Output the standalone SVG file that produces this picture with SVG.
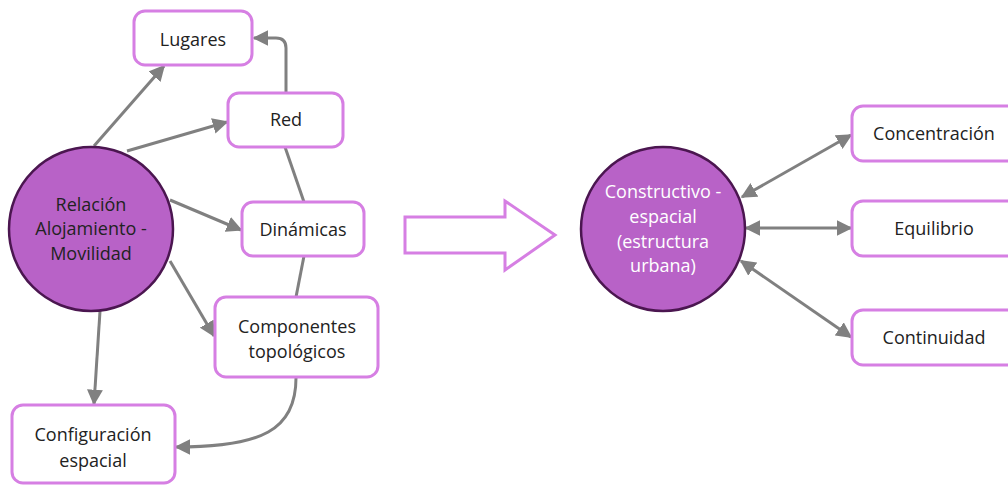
<svg xmlns="http://www.w3.org/2000/svg" width="1008" height="486" viewBox="0 0 1008 486">
<style>
.box{fill:#fff;stroke:#d67fe3;stroke-width:3}
.circ{fill:#b862c7;stroke:#4b1650;stroke-width:2.5}
.t{font-family:"Open Sans","Noto Sans",sans-serif;font-size:18px;fill:#222;text-anchor:middle}
.tw{fill:#fff}
.c{fill:none;stroke:#808080;stroke-width:3}
</style>
<defs>
<marker id="ah" viewBox="0 0 10 10" refX="9" refY="5" markerWidth="5.3" markerHeight="5.3" orient="auto-start-reverse" markerUnits="strokeWidth">
<path d="M0,0 L10,5 L0,10 z" fill="#808080"/>
</marker>
</defs>
<rect width="1008" height="486" fill="#fff"/>
<g id="connectors">
<path class="c" d="M94,146 L164,66" marker-end="url(#ah)"/>
<path class="c" d="M127,151 L227,122" marker-end="url(#ah)"/>
<path class="c" d="M286,93 L286,48 Q286,38 276,38 L254,38" marker-end="url(#ah)"/>
<path class="c" d="M170,200 L241,230" marker-end="url(#ah)"/>
<path class="c" d="M285,147 L304,202"/>
<path class="c" d="M304,256 L296,297"/>
<path class="c" d="M170,261 L214,336" marker-end="url(#ah)"/>
<path class="c" d="M100,311 L94,404" marker-end="url(#ah)"/>
<path class="c" d="M296,378 C296,430 262,447 176,447" marker-end="url(#ah)"/>
<path class="c" d="M742,197 L851,135" marker-start="url(#ah)" marker-end="url(#ah)"/>
<path class="c" d="M746,228 L851,228" marker-start="url(#ah)" marker-end="url(#ah)"/>
<path class="c" d="M741,261 L851,337" marker-start="url(#ah)" marker-end="url(#ah)"/>
</g>
<g id="big-arrow">
<path d="M405,217 L505,217 L505,201 L555,235 L505,270 L505,253 L405,253 Z" fill="#fff" stroke="#d67fe3" stroke-width="3"/>
</g>
<g id="n-relacion">
<circle class="circ" cx="91" cy="229" r="82"/>
<text class="t" x="91" y="211">Relación</text>
<text class="t" x="91" y="235">Alojamiento -</text>
<text class="t" x="91" y="260">Movilidad</text>
</g>
<g id="n-lugares">
<rect class="box" x="134" y="11" width="118" height="54" rx="11"/>
<text class="t" x="193" y="46">Lugares</text>
</g>
<g id="n-red">
<rect class="box" x="228" y="93" width="115" height="54" rx="11"/>
<text class="t" x="286" y="126">Red</text>
</g>
<g id="n-dinamicas">
<rect class="box" x="242" y="202" width="122" height="54" rx="11"/>
<text class="t" x="303" y="236">Dinámicas</text>
</g>
<g id="n-componentes">
<rect class="box" x="215" y="297" width="163" height="80" rx="11"/>
<text class="t" x="297" y="333">Componentes</text>
<text class="t" x="297" y="358">topológicos</text>
</g>
<g id="n-configuracion">
<rect class="box" x="12" y="405" width="163" height="78" rx="11"/>
<text class="t" x="93" y="441">Configuración</text>
<text class="t" x="93" y="467">espacial</text>
</g>
<g id="n-constructivo">
<circle class="circ" cx="663" cy="229" r="82"/>
<text class="t tw" x="663" y="198" font-size="16">Constructivo -</text>
<text class="t tw" x="663" y="223" font-size="16">espacial</text>
<text class="t tw" x="663" y="248" font-size="16">(estructura</text>
<text class="t tw" x="663" y="272" font-size="16">urbana)</text>
</g>
<g id="n-concentracion">
<rect class="box" x="852" y="106" width="170" height="55" rx="11"/>
<text class="t" x="934" y="140">Concentración</text>
</g>
<g id="n-equilibrio">
<rect class="box" x="852" y="201" width="170" height="55" rx="11"/>
<text class="t" x="934" y="235">Equilibrio</text>
</g>
<g id="n-continuidad">
<rect class="box" x="852" y="310" width="170" height="55" rx="11"/>
<text class="t" x="934" y="344">Continuidad</text>
</g>
</svg>
